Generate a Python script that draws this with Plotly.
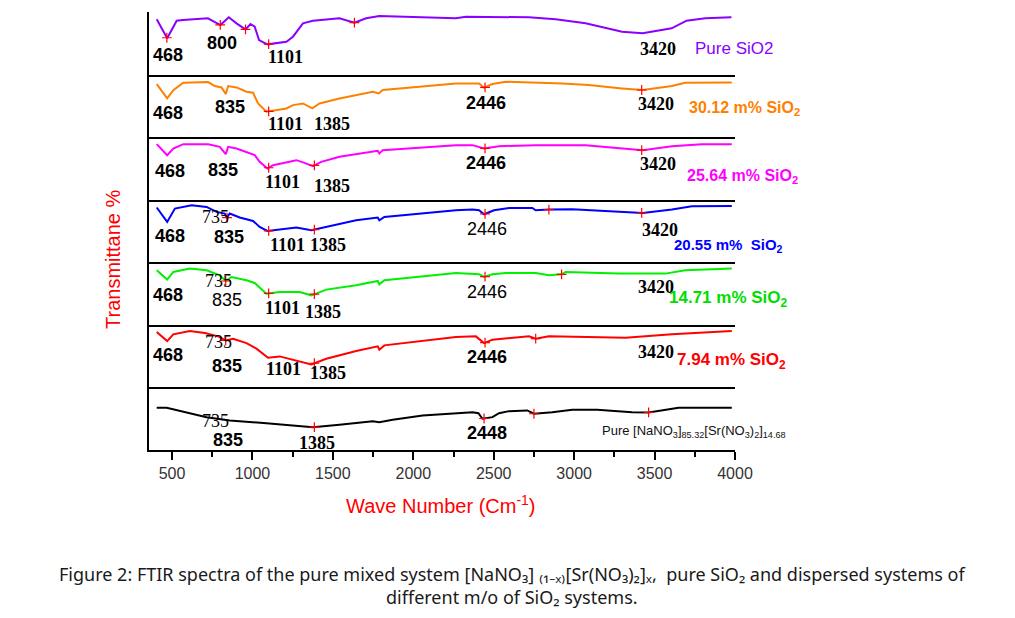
import numpy as np
import plotly.graph_objects as go
from plotly.subplots import make_subplots

# ---------------- data (wavenumber cm-1, transmittance in panel units 0-100) -------------
wn_sio2 = [405, 470, 529, 568, 723, 777, 801, 853, 901, 957, 988, 1014, 1041, 1093, 1211, 1252,
           1314, 1376, 1541, 1634, 1707, 1789, 2265, 2327, 2719, 2885, 3071, 3298, 3426, 3606,
           3699, 3815, 3978]
t_sio2 = [88.3, 57.9, 86.1, 87.2, 89.9, 82.9, 79.2, 91.5, 81.9, 72.3, 80.8, 76.5, 55.2, 48.3, 52.5,
          60.5, 81.9, 86.1, 89.9, 82.9, 89.9, 93.6, 89.9, 92.5, 91.5, 88.3, 81.9, 68.5, 65.9, 73.9,
          86.1, 89.9, 91.5]

wn_3012 = [405, 470, 508, 570, 725, 766, 808, 834, 849, 901, 963, 1004, 1035, 1087, 1211, 1252,
           1314, 1372, 1417, 1541, 1748, 1785, 1810, 2265, 2409, 2440, 2492, 2575, 2926, 3091,
           3298, 3426, 3608, 3690, 3980]
t_3012 = [84.8, 61.9, 75.2, 86.9, 88.0, 81.6, 79.5, 68.8, 81.6, 79.5, 72.5, 70.9, 53.9, 40.5, 45.9,
          51.2, 53.9, 45.9, 53.9, 61.9, 72.5, 69.9, 75.2, 85.9, 85.9, 78.9, 84.8, 88.5, 85.9, 83.2,
          77.9, 75.2, 81.6, 86.9, 87.5]

wn_2564 = [405, 470, 508, 570, 725, 797, 834, 849, 901, 1014, 1045, 1093, 1128, 1211, 1273, 1324,
           1376, 1428, 1541, 1779, 1789, 1810, 2265, 2368, 2440, 2533, 2761, 3071, 3319, 3426,
           3608, 3794, 3980]
t_2564 = [88.8, 71.2, 81.9, 88.8, 88.8, 84.5, 72.8, 84.5, 81.9, 71.2, 60.5, 49.9, 55.2, 59.5, 63.2,
          58.9, 53.6, 60.5, 68.5, 78.1, 73.9, 79.2, 87.2, 87.2, 81.9, 85.6, 87.2, 87.2, 81.9, 79.2,
          85.6, 88.8, 88.8]

wn_2055 = [405, 470, 518, 622, 715, 777, 828, 842, 859, 921, 1004, 1045, 1093, 1169, 1273, 1366,
           1459, 1645, 1779, 1789, 1820, 2265, 2368, 2409, 2440, 2502, 2595, 2740, 2761, 2843,
           2988, 3236, 3426, 3608, 3732, 3980]
t_2055 = [87.5, 64.5, 85.9, 91.2, 88.5, 80.5, 77.9, 71.5, 77.9, 71.5, 66.1, 56.5, 50.1, 52.3, 55.5,
          51.2, 56.5, 67.2, 71.5, 67.2, 72.5, 83.2, 84.3, 83.2, 76.8, 83.2, 86.9, 86.9, 83.2, 84.3,
          84.8, 82.1, 78.9, 84.3, 89.6, 90.1]

wn_1471 = [405, 470, 508, 611, 715, 797, 834, 870, 963, 1014, 1087, 1169, 1293, 1366, 1459, 1645,
           1779, 1789, 1820, 2265, 2409, 2440, 2492, 2575, 2761, 2843, 2922, 2947, 3279, 3567,
           3691, 3980]
t_1471 = [87.2, 72.3, 84.5, 89.9, 87.2, 79.2, 70.1, 76.5, 71.2, 66.9, 49.9, 52.5, 52.5, 47.2, 56.3,
          63.2, 70.1, 64.8, 71.2, 82.9, 80.8, 76.5, 80.8, 82.9, 82.9, 79.2, 80.8, 84.5, 81.9, 81.9,
          87.2, 89.9]

wn_794 = [405, 470, 508, 611, 704, 787, 834, 880, 963, 1025, 1097, 1169, 1366, 1459, 1645, 1779,
          1789, 1820, 2265, 2389, 2440, 2492, 2719, 2761, 2843, 3319, 3608, 3980]
t_794 = [88.5, 74.1, 84.8, 90.1, 86.9, 81.6, 75.2, 77.9, 70.9, 61.9, 47.5, 49.6, 36.8, 45.9, 58.1,
         65.6, 60.3, 67.2, 80.5, 81.6, 70.9, 76.3, 81.6, 77.9, 81.6, 79.5, 84.8, 90.1]

wn_pure = [405, 467, 715, 859, 1087, 1376, 1541, 1748, 1789, 1872, 2058, 2368, 2405, 2430, 2492,
           2533, 2595, 2709, 2750, 2802, 2864, 2988, 3143, 3360, 3463, 3649, 3980]
t_pure = [67.5, 67.5, 52.5, 47.2, 42.9, 36.5, 40.3, 46.1, 44.5, 48.3, 55.2, 60.5, 58.9, 49.9, 52.5,
          58.9, 62.1, 63.2, 57.9, 58.9, 60.5, 64.3, 64.3, 60.5, 60.0, 67.5, 67.5]

# marked peak positions (red crosses) per spectrum
mk_sio2 = [468, 800, 957, 1101, 1634]
mk_3012 = [1101, 2446, 3420]
mk_2564 = [1101, 1385, 2446, 3420]
mk_2055 = [842, 1101, 1385, 2446, 2843, 3420]
mk_1471 = [834, 1101, 1385, 2446, 2922]
mk_794 = [834, 1385, 2446, 2761]
mk_pure = [1385, 2440, 2750, 3463]

series_names = ["Pure SiO2", "30.12 m% SiO2", "25.64 m% SiO2", "20.55 m% SiO2",
                "14.71 m% SiO2", "7.94 m% SiO2", "Pure [NaNO3]85.32[Sr(NO3)2]14.68"]
series_wn = [wn_sio2, wn_3012, wn_2564, wn_2055, wn_1471, wn_794, wn_pure]
series_t = [t_sio2, t_3012, t_2564, t_2055, t_1471, t_794, t_pure]
series_mk = [mk_sio2, mk_3012, mk_2564, mk_2055, mk_1471, mk_794, mk_pure]
colors = ["#8a00ff", "#ff8000", "#ff00ff", "#0000ff", "#00f000", "#ff0000", "#000000"]

x_ticks = [500, 1000, 1500, 2000, 2500, 3000, 3500, 4000]

# ---------------- layout geometry ----------------
W_PX, H_PX = 1015, 618
OFF = 8  # page body margin of the html page
L, T = 149 - OFF, 12 - OFF
PW, PH = 586, 438
R, B = W_PX - L - PW, H_PX - T - PH


def px_x(px):
    return (px - OFF - L) / PW


def px_y(py):
    return 1 - (py - OFF - T) / PH


fig = make_subplots(rows=7, cols=1, shared_xaxes=True, vertical_spacing=0)

for i in range(7):
    r = i + 1
    fig.add_trace(go.Scatter(x=series_wn[i], y=series_t[i], mode="lines",
                             line=dict(color=colors[i], width=2), name=series_names[i],
                             showlegend=False, hoverinfo="skip"), row=r, col=1)
    mk = series_mk[i]
    fig.add_trace(go.Scatter(x=mk, y=np.interp(mk, series_wn[i], series_t[i]), mode="markers",
                             marker=dict(symbol="cross-thin", size=7,
                                         line=dict(color="#ff0000", width=1.2)),
                             showlegend=False, hoverinfo="skip"), row=r, col=1)
    fig.update_yaxes(range=[0, 100], showline=True, linecolor="black", linewidth=2,
                     showticklabels=False, ticks="", showgrid=False, zeroline=False, row=r, col=1)
    fig.update_xaxes(range=[357, 4000], showline=True, linecolor="black", linewidth=2,
                     showgrid=False, zeroline=False, ticks="", row=r, col=1)

fig.update_xaxes(row=7, col=1, ticks="outside", ticklen=8, tickwidth=1.5, tickcolor="black",
                 tickvals=x_ticks, ticktext=[str(v) for v in x_ticks], showticklabels=True,
                 tickfont=dict(family="Liberation Sans, Arial", size=16, color="#333333"),
                 minor=dict(ticks="outside", ticklen=5, tickwidth=1.5, tickcolor="black",
                            dtick=250, tick0=250))

ann = []
SANS = "Liberation Sans, Arial"
SERIF = "Liberation Serif, Times New Roman"
# peak labels: text, px, py, family, bold
peak_labels = [
    ("468", 168, 55, SANS, True), ("800", 222, 43, SANS, True), ("1101", 285, 57, SERIF, True),
    ("3420", 658, 49, SERIF, True),
    ("468", 168, 113, SANS, True), ("835", 230, 107, SANS, True), ("1101", 285, 124, SERIF, True),
    ("1385", 332, 124, SERIF, True), ("2446", 486, 103, SANS, True), ("3420", 656, 104, SERIF, True),
    ("468", 170, 171, SANS, True), ("835", 223, 170, SANS, True), ("1101", 282, 182, SERIF, True),
    ("1385", 332, 186, SERIF, True), ("2446", 486, 163, SANS, True), ("3420", 658, 164, SERIF, True),
    ("468", 170, 236, SANS, True), ("735", 215, 217, SERIF, False), ("835", 229, 237, SANS, True),
    ("1101", 287, 245, SERIF, True), ("1385", 328, 245, SERIF, True), ("2446", 487, 229, SANS, False),
    ("3420", 660, 230, SERIF, True),
    ("468", 168, 295, SANS, True), ("735", 218, 281, SERIF, False), ("835", 227, 300, SANS, False),
    ("1101", 282, 308, SERIF, True), ("1385", 323, 312, SERIF, True), ("2446", 487, 292, SANS, False),
    ("3420", 656, 287, SERIF, True),
    ("468", 168, 355, SANS, True), ("735", 218, 342, SERIF, False), ("835", 227, 366, SANS, True),
    ("1101", 283, 369, SERIF, True), ("1385", 328, 373, SERIF, True), ("2446", 487, 357, SANS, True),
    ("3420", 656, 352, SERIF, True),
    ("735", 215, 421, SERIF, False), ("835", 228, 440, SANS, True), ("1385", 317, 443, SERIF, True),
    ("2448", 487, 433, SANS, True),
]
for txt, px, py, fam, bold in peak_labels:
    ann.append(dict(text=txt, x=px_x(px), y=px_y(py), xref="paper", yref="paper",
                    xanchor="center", yanchor="middle", showarrow=False,
                    font=dict(family=fam, size=18, color="black",
                              weight="bold" if bold else "normal")))

# series labels: text, left px, py, colour, size, bold
series_labels = [
    ("Pure SiO2", 693, 49, colors[0], 17, False),
    ("30.12 m% SiO<sub>2</sub>", 687, 108, colors[1], 16, True),
    ("25.64 m% SiO<sub>2</sub>", 685, 176, colors[2], 16, True),
    ("20.55 m%  SiO<sub>2</sub>", 672, 245, colors[3], 15, True),
    ("14.71 m% SiO<sub>2</sub>", 667, 299, "#00dd00", 17, True),
    ("7.94 m% SiO<sub>2</sub>", 675, 361, colors[5], 17, True),
    ("Pure [NaNO<sub>3</sub>]<sub>85.32</sub>[Sr(NO<sub>3</sub>)<sub>2</sub>]<sub>14.68</sub>",
     600, 431, "#111111", 13, False),
]
for txt, px, py, col, sz, bold in series_labels:
    ann.append(dict(text=txt, x=px_x(px), y=px_y(py), xref="paper", yref="paper",
                    xanchor="left", yanchor="middle", showarrow=False,
                    font=dict(family=SANS, size=sz, color=col,
                              weight="bold" if bold else "normal")))

# axis titles
ann.append(dict(text="Wave Number (Cm<sup>-1</sup>)", x=px_x(441), y=px_y(505), xref="paper",
                yref="paper", xanchor="center", yanchor="middle", showarrow=False,
                font=dict(family=SANS, size=20, color="#ff0000")))
ann.append(dict(text="Transmittane %", x=px_x(113), y=px_y(259), xref="paper", yref="paper",
                xanchor="center", yanchor="middle", showarrow=False, textangle=-90,
                font=dict(family=SANS, size=20, color="#ff0000")))
# caption (two lines in one text block, unicode subscripts)
CAP = "Noto Sans, Liberation Sans, Arial, sans-serif"
ann.append(dict(text="Figure 2: FTIR spectra of the pure mixed system [NaNO₃] ₍₁₋ₓ₎[Sr(NO₃)₂]ₓ,  "
                     "pure SiO₂ and dispersed systems of<br>different m/o of SiO₂ systems.",
                x=px_x(512), y=px_y(585), xref="paper", yref="paper", xanchor="center",
                yanchor="middle", align="center", showarrow=False,
                font=dict(family=CAP, size=18, color="#1a1a1a")))

fig.update_layout(width=W_PX, height=H_PX, margin=dict(l=L, r=R, t=T, b=B),
                  paper_bgcolor="white", plot_bgcolor="white", annotations=ann,
                  showlegend=False)

fig.write_html("out.html")
